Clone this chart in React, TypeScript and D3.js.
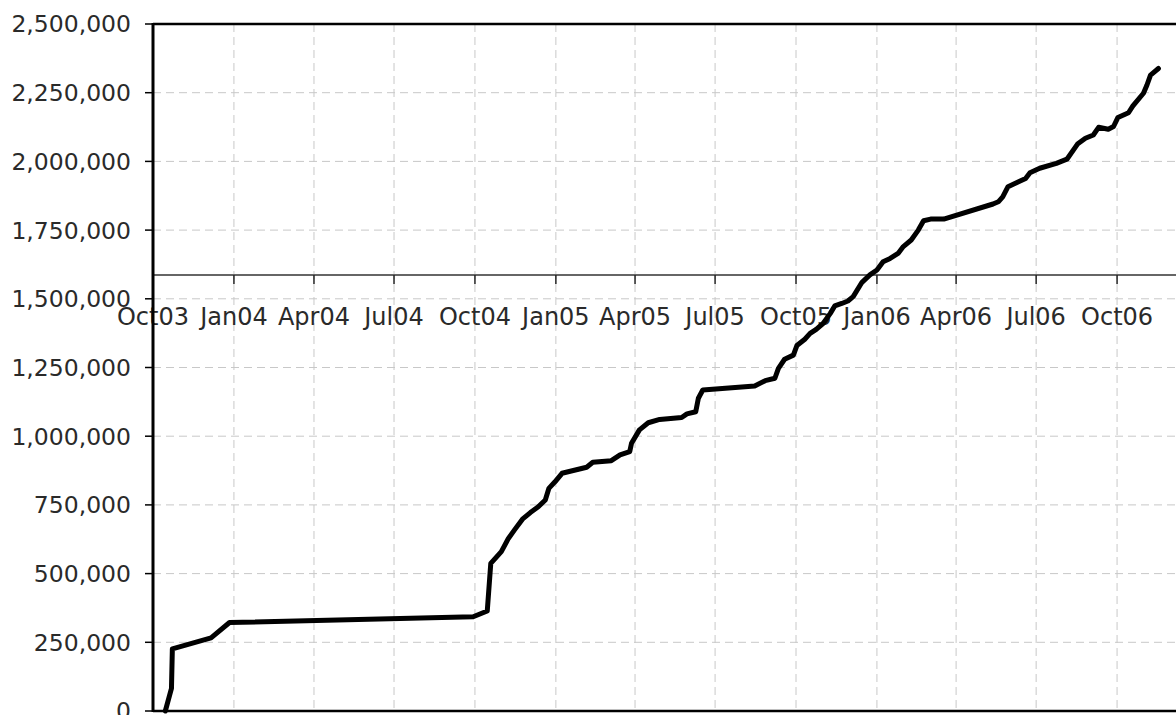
import React, { useEffect, useRef } from "react";
import * as d3 from "d3";

// cumulative total
const dates: string[] = [
  "2003-10-15", "2003-10-22", "2003-10-23", "2003-12-06", "2003-12-27",
  "2004-09-29", "2004-10-15", "2004-10-19", "2004-10-31", "2004-11-08",
  "2004-11-15", "2004-11-24", "2004-12-03", "2004-12-12", "2004-12-20",
  "2004-12-24", "2004-12-31", "2005-01-08", "2005-02-05", "2005-02-12",
  "2005-03-05", "2005-03-15", "2005-03-26", "2005-03-28", "2005-04-06",
  "2005-04-16", "2005-04-29", "2005-05-24", "2005-05-30", "2005-06-09",
  "2005-06-12", "2005-06-17", "2005-08-15", "2005-08-27", "2005-09-07",
  "2005-09-11", "2005-09-18", "2005-09-28", "2005-10-02", "2005-10-11",
  "2005-10-17", "2005-10-24", "2005-11-01", "2005-11-09", "2005-11-14",
  "2005-11-22", "2005-11-29", "2005-12-05", "2005-12-15", "2005-12-24",
  "2006-01-01", "2006-01-08", "2006-01-16", "2006-01-25", "2006-01-31",
  "2006-02-09", "2006-02-17", "2006-02-23", "2006-03-03", "2006-03-18",
  "2006-05-13", "2006-05-19", "2006-05-24", "2006-05-30", "2006-06-11",
  "2006-06-19", "2006-06-24", "2006-07-05", "2006-07-24", "2006-08-05",
  "2006-08-17", "2006-08-26", "2006-09-04", "2006-09-10", "2006-09-21",
  "2006-09-27", "2006-10-02", "2006-10-14", "2006-10-19", "2006-10-31",
  "2006-11-04", "2006-11-08", "2006-11-17",
];

const totals: number[] = [
  0, 82000, 226000, 266000, 322000,
  343000, 364000, 537000, 580000, 628000,
  659000, 698000, 722000, 743000, 768000,
  810000, 834000, 865000, 887000, 905000,
  911000, 932000, 944000, 974000, 1023000,
  1049000, 1061000, 1068000, 1081000, 1089000,
  1138000, 1168000, 1183000, 1202000, 1211000,
  1247000, 1280000, 1295000, 1330000, 1353000,
  1374000, 1389000, 1411000, 1447000, 1474000,
  1483000, 1492000, 1508000, 1560000, 1587000,
  1605000, 1635000, 1647000, 1665000, 1690000,
  1714000, 1750000, 1784000, 1790000, 1790000,
  1845000, 1853000, 1871000, 1908000, 1926000,
  1938000, 1959000, 1975000, 1993000, 2008000,
  2063000, 2084000, 2096000, 2124000, 2117000,
  2127000, 2160000, 2177000, 2202000, 2248000,
  2278000, 2314000, 2338000,
];

const xTickLabels: string[] = [
  "Oct03", "Jan04", "Apr04", "Jul04", "Oct04", "Jan05", "Apr05",
  "Jul05", "Oct05", "Jan06", "Apr06", "Jul06", "Oct06",
];

const yTicks: number[] = [
  0, 250000, 500000, 750000, 1000000, 1250000,
  1500000, 1750000, 2000000, 2250000, 2500000,
];

const xStart = "2003-10-01";
const xEnd = "2007-01-01";
const xAxisCrossing = 1587000; // the horizontal axis sits at this value

const W = 1176;
const H = 715;
const FONT = "'DejaVu Sans', sans-serif";

export default function App() {
  const ref = useRef<SVGSVGElement>(null);

  useEffect(() => {
    const svg = d3.select(ref.current);
    svg.selectAll("*").remove();

    const left = 153, top = 24, bottom = 711, right = 1198;
    const parse = d3.timeParse("%Y-%m-%d");

    const x = d3.scaleTime()
      .domain([parse(xStart)!, parse(xEnd)!])
      .range([left, right]);
    const y = d3.scaleLinear().domain([0, 2500000]).range([bottom, top]);

    const quarterTicks = d3.timeMonth.every(3)!.range(parse(xStart)!, parse(xEnd)!);

    // dashed grid
    svg.append("g")
      .selectAll("line")
      .data(quarterTicks.slice(1))
      .join("line")
      .attr("x1", d => x(d)).attr("x2", d => x(d))
      .attr("y1", top).attr("y2", bottom)
      .attr("stroke", "#c8c8c8")
      .attr("stroke-width", 1)
      .attr("stroke-dasharray", "8,5");

    svg.append("g")
      .selectAll("line")
      .data(yTicks.slice(1, -1))
      .join("line")
      .attr("x1", left).attr("x2", right)
      .attr("y1", d => y(d)).attr("y2", d => y(d))
      .attr("stroke", "#c8c8c8")
      .attr("stroke-width", 1)
      .attr("stroke-dasharray", "8,5");

    // frame: top + bottom + left
    svg.append("line")
      .attr("x1", left).attr("x2", right).attr("y1", top).attr("y2", top)
      .attr("stroke", "#000").attr("stroke-width", 2.5);
    svg.append("line")
      .attr("x1", left).attr("x2", right).attr("y1", bottom).attr("y2", bottom)
      .attr("stroke", "#000").attr("stroke-width", 2.5);

    // y axis ticks + labels
    svg.append("g")
      .selectAll("line")
      .data(yTicks)
      .join("line")
      .attr("x1", left - 8).attr("x2", left)
      .attr("y1", d => y(d)).attr("y2", d => y(d))
      .attr("stroke", "#000").attr("stroke-width", 1.5);

    svg.append("g")
      .selectAll("text")
      .data(yTicks)
      .join("text")
      .attr("x", 131)
      .attr("y", d => y(d))
      .attr("dy", "0.36em")
      .attr("text-anchor", "end")
      .style("font-family", FONT)
      .style("font-size", "23.5px")
      .style("fill", "#2a2a2a")
      .text(d => d3.format(",")(d));

    // horizontal axis crossing the plot
    const yAxis = y(xAxisCrossing);
    svg.append("line")
      .attr("x1", left).attr("x2", right).attr("y1", yAxis).attr("y2", yAxis)
      .attr("stroke", "#666").attr("stroke-width", 2);

    svg.append("g")
      .selectAll("line")
      .data(quarterTicks)
      .join("line")
      .attr("x1", d => x(d)).attr("x2", d => x(d))
      .attr("y1", yAxis).attr("y2", yAxis + 9)
      .attr("stroke", "#222").attr("stroke-width", 1.5);

    svg.append("g")
      .selectAll("text")
      .data(quarterTicks)
      .join("text")
      .attr("x", d => x(d))
      .attr("y", yAxis + 50)
      .attr("text-anchor", "middle")
      .style("font-family", FONT)
      .style("font-size", "24px")
      .style("fill", "#2a2a2a")
      .text((d, i) => xTickLabels[i] ?? "");

    svg.append("line")
      .attr("x1", left).attr("x2", left).attr("y1", top - 1).attr("y2", bottom + 1)
      .attr("stroke", "#000").attr("stroke-width", 3);

    // the series
    const points = dates.map((d, i) => ({ date: parse(d)!, value: totals[i] }));
    const line = d3.line<{ date: Date; value: number }>()
      .x(d => x(d.date))
      .y(d => y(d.value));

    svg.append("path")
      .datum(points)
      .attr("fill", "none")
      .attr("stroke", "#000")
      .attr("stroke-width", 5)
      .attr("stroke-linejoin", "round")
      .attr("stroke-linecap", "round")
      .attr("d", line);
  }, []);

  return (
    <svg
      ref={ref}
      width={W}
      height={H}
      style={{ position: "absolute", left: 0, top: 0, background: "#fff" }}
    />
  );
}
